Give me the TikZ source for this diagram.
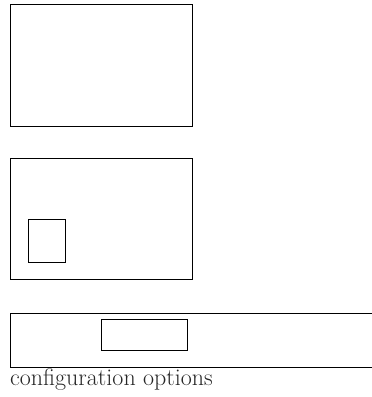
\documentclass[tikz,border=0pt]{standalone}
\usepackage{tikz}
\usetikzlibrary{positioning}

\begin{document}
\begin{tikzpicture}[
    x=1pt, y=1pt,
    panel/.style={draw=black, thick, inner sep=0pt, minimum width=182pt},
    subbox/.style={draw=black, thick, inner sep=0pt},
    caption/.style={inner sep=0pt, anchor=base west, font=\fontsize{24}{28}\selectfont, text=black!85}
]
    \useasboundingbox (0,0) rectangle (372,397);
    \clip (0,0) rectangle (372,397);

    \node[panel, minimum height=122pt] (top) at (101,332) {};

    \node[panel, minimum height=121pt] (mid) at (101,178.5) {};
    \node[subbox, minimum width=37pt, minimum height=43pt] (midin) at (46.5,156.5) {};

    \node[panel, minimum width=380pt, minimum height=54pt] (bar) at (200,57) {};
    \node[subbox, minimum width=86pt, minimum height=31pt] (barin) at (144,62.5) {};

    \node[caption] (opts) at (10,12) {configuration options};
\end{tikzpicture}
\end{document}
